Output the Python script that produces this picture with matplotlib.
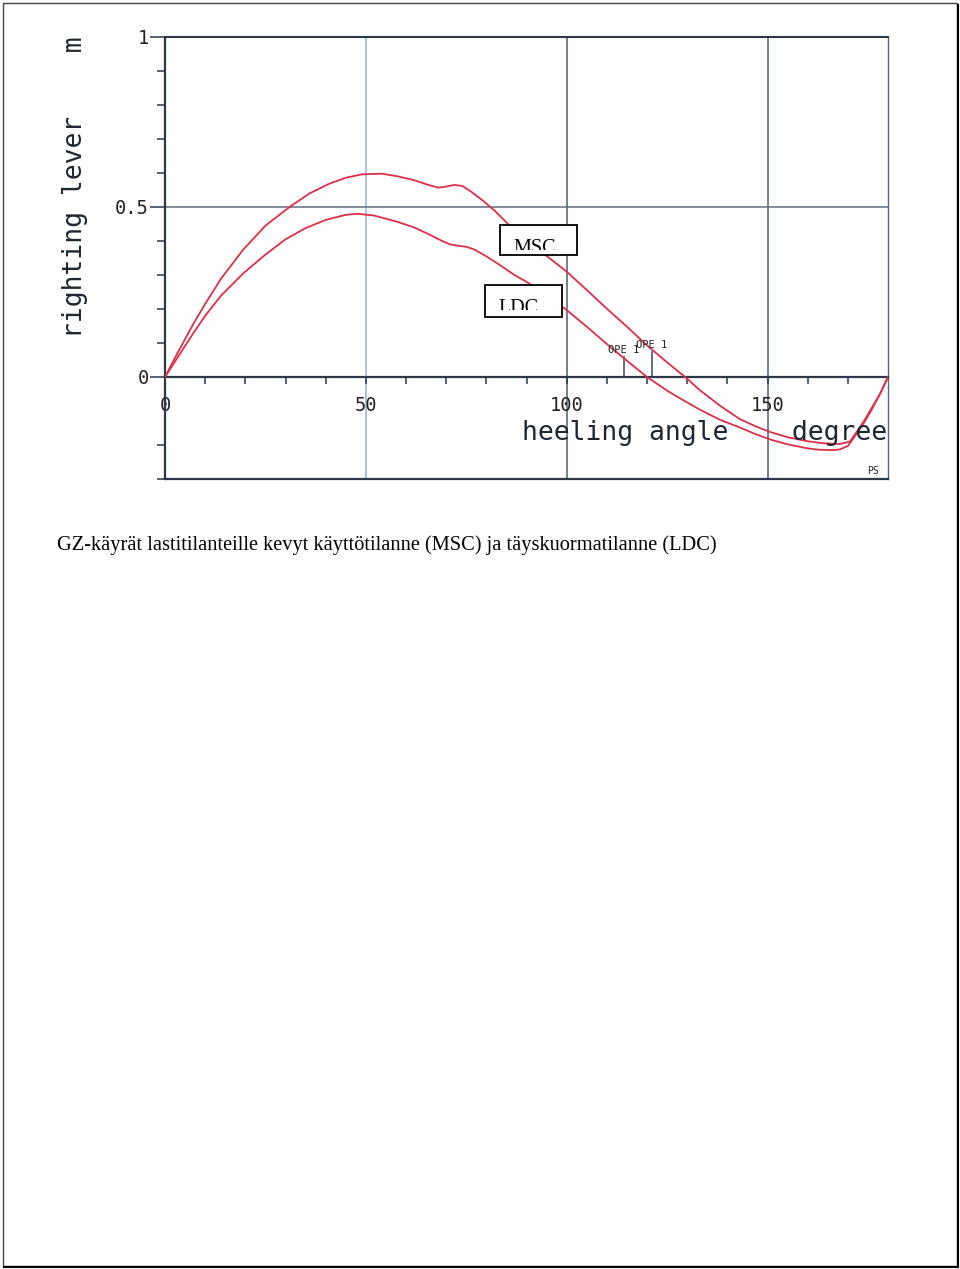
import matplotlib
matplotlib.use('Agg')
import matplotlib.pyplot as plt
from matplotlib.patches import Rectangle
from matplotlib.lines import Line2D
from matplotlib.transforms import Bbox, TransformedBbox

# ---------------- data ----------------
angle_msc = [0, 3, 7, 10, 14, 19.5, 25, 31, 36, 41, 45, 49, 54, 58, 62, 65, 68, 70, 72, 74, 76,
             79, 82, 86, 90, 95, 100, 105, 110, 115, 120, 125, 129.5, 133, 138, 143, 147, 151,
             155, 160, 164, 168, 170.5, 172, 174, 176, 178, 180]
gz_msc = [0, 0.068, 0.155, 0.215, 0.29, 0.375, 0.445, 0.50, 0.54, 0.569, 0.586, 0.596, 0.598,
          0.590, 0.579, 0.567, 0.557, 0.560, 0.565, 0.562, 0.547, 0.52, 0.49, 0.443, 0.40,
          0.356, 0.31, 0.256, 0.201, 0.148, 0.093, 0.043, 0.0, -0.037, -0.083, -0.123, -0.145,
          -0.163, -0.177, -0.189, -0.195, -0.197, -0.19, -0.165, -0.13, -0.09, -0.05, 0.0]

angle_ldc = [0, 3, 7, 10, 14, 19.5, 25, 30, 35, 40, 45, 48, 52, 57.7, 62, 66, 69, 71, 73, 75,
             77, 80, 83.4, 87, 90, 95, 100, 105, 110, 115, 120, 125, 129, 133, 138, 143, 147,
             151, 155, 160, 163, 166.5, 168, 170, 172, 174, 176, 178, 180]
gz_ldc = [0, 0.055, 0.128, 0.18, 0.24, 0.305, 0.36, 0.405, 0.438, 0.462, 0.477, 0.48, 0.475,
          0.457, 0.44, 0.418, 0.40, 0.39, 0.386, 0.383, 0.375, 0.355, 0.329, 0.30, 0.28, 0.24,
          0.197, 0.148, 0.097, 0.048, 0.0, -0.04, -0.068, -0.095, -0.125, -0.148, -0.168,
          -0.185, -0.198, -0.21, -0.214, -0.215, -0.213, -0.203, -0.17, -0.135, -0.095, -0.05, 0.0]

ope_angles = [114.2, 121.2]
ope_heights = [0.06, 0.074]
ope_labels = ['OPE 1', 'OPE 1']

x_tick_values = [0, 50, 100, 150]
x_tick_labels = ['0', '50', '100', '150']
x_minor_values = [10, 20, 30, 40, 60, 70, 80, 90, 110, 120, 130, 140, 160, 170]
y_tick_values = [0, 0.5, 1]
y_tick_labels = ['0', '0.5', '1']
y_minor_values = [-0.3, -0.2, 0.1, 0.2, 0.3, 0.4, 0.6, 0.7, 0.8, 0.9]

series_names = ['MSC', 'LDC']
x_label = 'heeling angle    degree'
y_label = 'righting lever    m'
caption = 'GZ-käyrät lastitilanteille kevyt käyttötilanne (MSC) ja täyskuormatilanne (LDC)'

# ---------------- figure ----------------
W, H = 960, 1269
fig = plt.figure(figsize=(W / 100, H / 100), dpi=100)
fig.patch.set_facecolor('white')

ax = fig.add_axes([165 / W, 1 - 479 / H, 723 / W, 442 / H])
ax.set_xlim(0, 180)
ax.set_ylim(-0.3, 1.0)

mono = 'DejaVu Sans Mono'
dark = '#2b3848'
red = '#dc2f4a'

# grid lines
ax.axvline(50, color='#a9c1e0', lw=1.4, zorder=1)
ax.axvline(100, color='#4e5d70', lw=1.1, zorder=1)
ax.axvline(150, color='#4e5d70', lw=1.1, zorder=1)
ax.axhline(0.5, color='#5f6e80', lw=1.1, zorder=1)
ax.axhline(-0.3, color=dark, lw=1.6, zorder=3, clip_on=False)

# spines
for s in ['left', 'top', 'right', 'bottom']:
    ax.spines[s].set_color(dark)
ax.spines['left'].set_linewidth(1.6)
ax.spines['top'].set_linewidth(1.5)
ax.spines['right'].set_linewidth(1.0)
ax.spines['right'].set_color('#5a6575')
ax.spines['bottom'].set_position(('data', 0))
ax.spines['bottom'].set_linewidth(1.6)

# ticks
ax.set_xticks(x_tick_values)
ax.set_xticklabels(x_tick_labels, family=mono, fontsize=13.5, color='#222222')
ax.set_xticks(x_minor_values, minor=True)
ax.tick_params(axis='x', which='both', direction='out', length=5, width=1.1, color=dark, pad=9)

ax.set_yticks(y_tick_values)
ax.set_yticklabels(y_tick_labels, family=mono, fontsize=13.5, color='#222222')
ax.set_yticks(y_minor_values, minor=True)
ax.tick_params(axis='y', which='major', direction='out', length=10.8, width=1.1, color=dark, pad=1)
ax.tick_params(axis='y', which='minor', direction='out', length=5.8, width=1.1, color=dark)

# curves
ax.plot(angle_msc, gz_msc, color=red, lw=1.3, zorder=4, label=series_names[0])
ax.plot(angle_ldc, gz_ldc, color=red, lw=1.3, zorder=4, label=series_names[1])

# OPE markers
for a, h, lab in zip(ope_angles, ope_heights, ope_labels):
    ax.plot([a, a], [0, h], color='#3a4656', lw=1.1, zorder=3)
    ax.text(a, h + 0.005, lab, ha='center', va='bottom', family=mono, fontsize=7.5,
            color='#222222', zorder=5)

# series label boxes (text clipped at the bottom, as in the reference)
boxes = {
    'MSC': dict(x0=83.4, x1=102.6, y0=0.359, y1=0.447, tx=86.7, ty=0.366, clip=0.374),
    'LDC': dict(x0=79.7, x1=98.8, y0=0.177, y1=0.271, tx=82.9, ty=0.188, clip=0.198),
}
for name in series_names:
    b = boxes[name]
    rect = Rectangle((b['x0'], b['y0']), b['x1'] - b['x0'], b['y1'] - b['y0'],
                     facecolor='white', edgecolor='black', lw=1.3, zorder=6)
    ax.add_patch(rect)
    t = ax.text(b['tx'], b['ty'], name, ha='left', va='baseline', family='Liberation Serif',
                fontsize=14.5, color='black', zorder=7)
    t.set_clip_on(True)
    t.set_clip_box(TransformedBbox(Bbox([[b['x0'], b['clip']], [b['x1'], b['y1']]]),
                                   ax.transData))

# axis labels
ax.text(179.8, -0.165, x_label, ha='right', va='center', family=mono, fontsize=19,
        color='#1e2630', zorder=5)
fig.text(75 / W, 1 - 36 / H, y_label, rotation=90, ha='center', va='top', family=mono,
         fontsize=19, color='#1e2630')
ax.text(176.3, -0.277, 'PS', ha='center', va='center', family=mono, fontsize=7,
        color='#222222', zorder=5)

# caption
fig.text(57 / W, 1 - 545 / H, caption, ha='left', va='center', family='Liberation Serif',
         fontsize=14.7, color='black')

# page border with shadow
fig.add_artist(Rectangle((2.5 / W, 1 - 1265.5 / H), 954.5 / W, 1262.5 / H,
                         transform=fig.transFigure, fill=False, edgecolor='#444444', lw=1.0))
fig.add_artist(Line2D([958 / W, 958 / W], [1 - 5 / H, 1 - 1267 / H], transform=fig.transFigure,
                      color='black', lw=1.5))
fig.add_artist(Line2D([4 / W, 958 / W], [1 - 1267 / H, 1 - 1267 / H], transform=fig.transFigure,
                      color='black', lw=1.5))

fig.savefig('out.png', dpi=100, facecolor='white')
